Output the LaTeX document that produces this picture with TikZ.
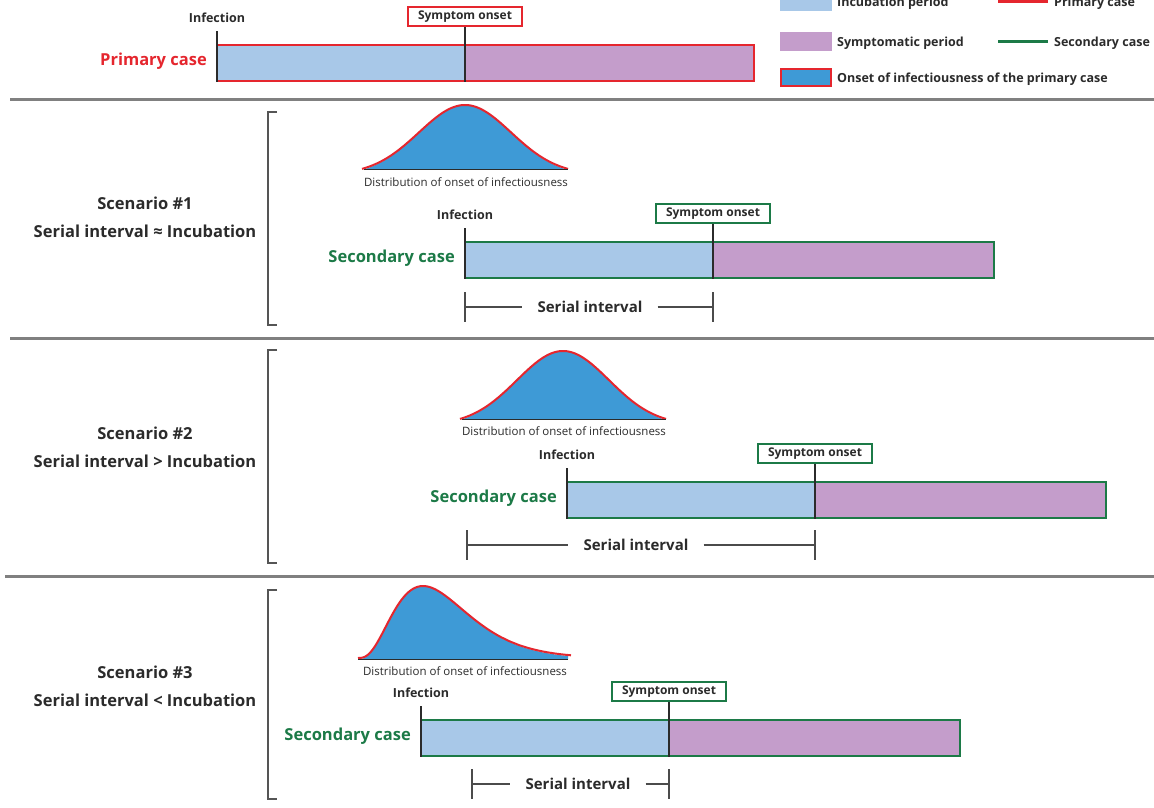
\documentclass[tikz,border=0pt]{standalone}
\usepackage{fontspec}
\setmainfont{Open Sans}
\definecolor{incub}{HTML}{A8C8E8}
\definecolor{sympt}{HTML}{C49DCB}
\definecolor{distblue}{HTML}{3E9AD6}
\definecolor{pred}{HTML}{E5262E}
\definecolor{sgreen}{HTML}{1C7A47}
\definecolor{ink}{HTML}{2B2B2B}
\definecolor{sepgray}{HTML}{808080}

% #1 name, #2 x infection, #3 x onset, #4 x end, #5 y top, #6 colour, #7 label
\newcommand\casebar[7]{%
  \fill[incub] (#2,#5) rectangle (#3,#5+36);
  \fill[sympt] (#3,#5) rectangle (#4,#5+36);
  \draw[draw=#6, line width=2pt] (#2,#5) rectangle (#4,#5+36);
  \node[infl] (#1il) at (#2,#5-27.5) {Infection};
  \node[onsetbox=#6] (#1on) at (#3,#5-28.5) {Symptom onset};
  \coordinate (#1inf) at (#2,#5-14);
  \coordinate (#1infb) at (#2,#5+37);
  \coordinate (#1onb) at (#3,#5+37);
  \draw[tick] (#1inf) -- (#1infb);
  \draw[tick] (#1on.south) -- (#1onb);
  \node[caselbl=#6] (#1lbl) at (#2-10,#5+16) {#7};
}
% #1 name, #2 xa, #3 xb, #4 y top, #5 text centre x
\newcommand\serint[5]{%
  \coordinate (#1a) at (#2,#4+15);
  \coordinate (#1b) at (#3,#4+15);
  \draw[sil] (#2,#4) -- (#2,#4+30);
  \draw[sil] (#3,#4) -- (#3,#4+30);
  \node[silbl] (#1t) at (#5,#4+15) {Serial interval};
  \draw[sil] (#1a) -- (#1t.west);
  \draw[sil] (#1t.east) -- (#1b);
}

\begin{document}
\begin{tikzpicture}[x=1pt,y=-1pt,
  infl/.style={text=ink, inner sep=0pt, font=\bfseries\fontsize{12.5}{14}\selectfont},
  onsetbox/.style={draw=#1, line width=2pt, fill=white, text=ink,
    font=\bfseries\fontsize{12}{14}\selectfont, minimum width=114pt,
    minimum height=19pt, inner sep=0pt},
  caselbl/.style={font=\bfseries\fontsize{16.5}{20}\selectfont, text=#1, anchor=east, inner sep=0pt},
  tick/.style={draw=ink, line width=2.5pt},
  sil/.style={draw=ink!85, line width=1.3pt},
  silbl/.style={font=\bfseries\fontsize{15}{18}\selectfont, text=ink, inner xsep=15pt, inner ysep=0pt},
  brk/.style={draw=ink!80, line width=1.5pt},
  sepline/.style={draw=sepgray, line width=3pt},
  scen/.style={font=\bfseries\fontsize{16.5}{19}\selectfont, text=ink, inner sep=0pt},
  distlbl/.style={font=\fontsize{11.5}{13}\selectfont, text=ink, inner sep=0pt},
  swatch/.style={minimum width=52pt, minimum height=19pt, inner sep=0pt},
  legtxt/.style={font=\bfseries\fontsize{12.5}{14}\selectfont, text=ink, inner sep=0pt, anchor=base west},
  curve/.style={draw=pred, line width=2pt},
  baseln/.style={draw=ink, line width=1.5pt}
]
\useasboundingbox (0,0) rectangle (1154,807);
\clip (0,0) rectangle (1154,807);
\fill[white] (0,0) rectangle (1154,807);

% ---------- legend ----------
\node[swatch, fill=incub] (lgi) at (806,1.5) {};
\node[legtxt] (lgit) at (837,6) {Incubation period};
\node[swatch, fill=sympt] (lgs) at (806,41.5) {};
\node[legtxt] (lgst) at (837,46) {Symptomatic period};
\node[swatch, fill=distblue, draw=pred, line width=2pt, minimum width=50pt, minimum height=17pt] (lgo) at (806,77.5) {};
\node[legtxt] (lgot) at (837,82) {Onset of infectiousness of the primary case};
\coordinate (lgpa) at (998,1.7);
\coordinate (lgpb) at (1048,1.7);
\draw[pred, line width=3pt] (lgpa) -- (lgpb);
\node[legtxt] (lgpt) at (1054,6) {Primary case};
\coordinate (lgsa) at (998,41.7);
\coordinate (lgsb) at (1048,41.7);
\draw[sgreen, line width=3pt] (lgsa) -- (lgsb);
\node[legtxt] (lgsct) at (1054,46) {Secondary case};

% ---------- primary case ----------
\casebar{p}{217}{465}{754}{45}{pred}{Primary case}

% ---------- separators ----------
\draw[sepline] (10,99) -- (1160,99);
\draw[sepline] (10,338) -- (1160,338);
\draw[sepline] (5,576) -- (1160,576);

% ---------- scenario 1 ----------
\draw[brk] (277,112) -- (268,112) -- (268,325) -- (277,325);
\node[scen] (s1a) at (145,203) {Scenario \#1};
\node[scen] (s1b) at (145,231) {Serial interval ≈ Incubation};
\fill[distblue] (365,169) -- plot[domain=-100:100, samples=80] ({465+\x},{169-64*(exp(-(\x*\x)/4232)-0.094)/0.906}) -- (565,169) -- cycle;
\draw[curve] plot[domain=-103:103, samples=80] ({465+\x},{168-63*(exp(-(\x*\x)/4232)-0.094)/0.906});
\draw[baseln] (364,169.5) -- (568,169.5);
\node[distlbl] (d1) at (466,182) {Distribution of onset of infectiousness};
\casebar{a}{465}{713}{994}{242}{sgreen}{Secondary case}
\serint{si1}{465}{713}{292}{590}

% ---------- scenario 2 ----------
\draw[brk] (277,350) -- (268,350) -- (268,563) -- (277,563);
\node[scen] (s2a) at (145,433) {Scenario \#2};
\node[scen] (s2b) at (145,461) {Serial interval > Incubation};
\fill[distblue] (463,419) -- plot[domain=-100:100, samples=80] ({563+\x},{419-68*(exp(-(\x*\x)/4232)-0.094)/0.906}) -- (663,419) -- cycle;
\draw[curve] plot[domain=-103:103, samples=80] ({563+\x},{418-67*(exp(-(\x*\x)/4232)-0.094)/0.906});
\draw[baseln] (462,419.5) -- (666,419.5);
\node[distlbl] (d2) at (564,431) {Distribution of onset of infectiousness};
\casebar{b}{567}{815}{1106}{482}{sgreen}{Secondary case}
\serint{si2}{467}{815}{530}{636}

% ---------- scenario 3 ----------
\draw[brk] (277,590) -- (268,590) -- (268,799) -- (277,799);
\node[scen] (s3a) at (145,672) {Scenario \#3};
\node[scen] (s3b) at (145,700) {Serial interval < Incubation};
\fill[distblue] (358,659) -- plot[domain=0:210, samples=90] ({358+\x},{659-73*(\x/65)*(\x/65)*(\x/65)*exp(3*(1-\x/65))}) -- (568,659) -- cycle;
\draw[curve] plot[domain=0:213, samples=90] ({358+\x},{658-72*(\x/65)*(\x/65)*(\x/65)*exp(3*(1-\x/65))});
\draw[baseln] (358,659.5) -- (568,659.5);
\node[distlbl] (d3) at (465,671) {Distribution of onset of infectiousness};
\casebar{c}{421}{669}{960}{720}{sgreen}{Secondary case}
\serint{si3}{472}{669}{769}{578}
\end{tikzpicture}
\end{document}
